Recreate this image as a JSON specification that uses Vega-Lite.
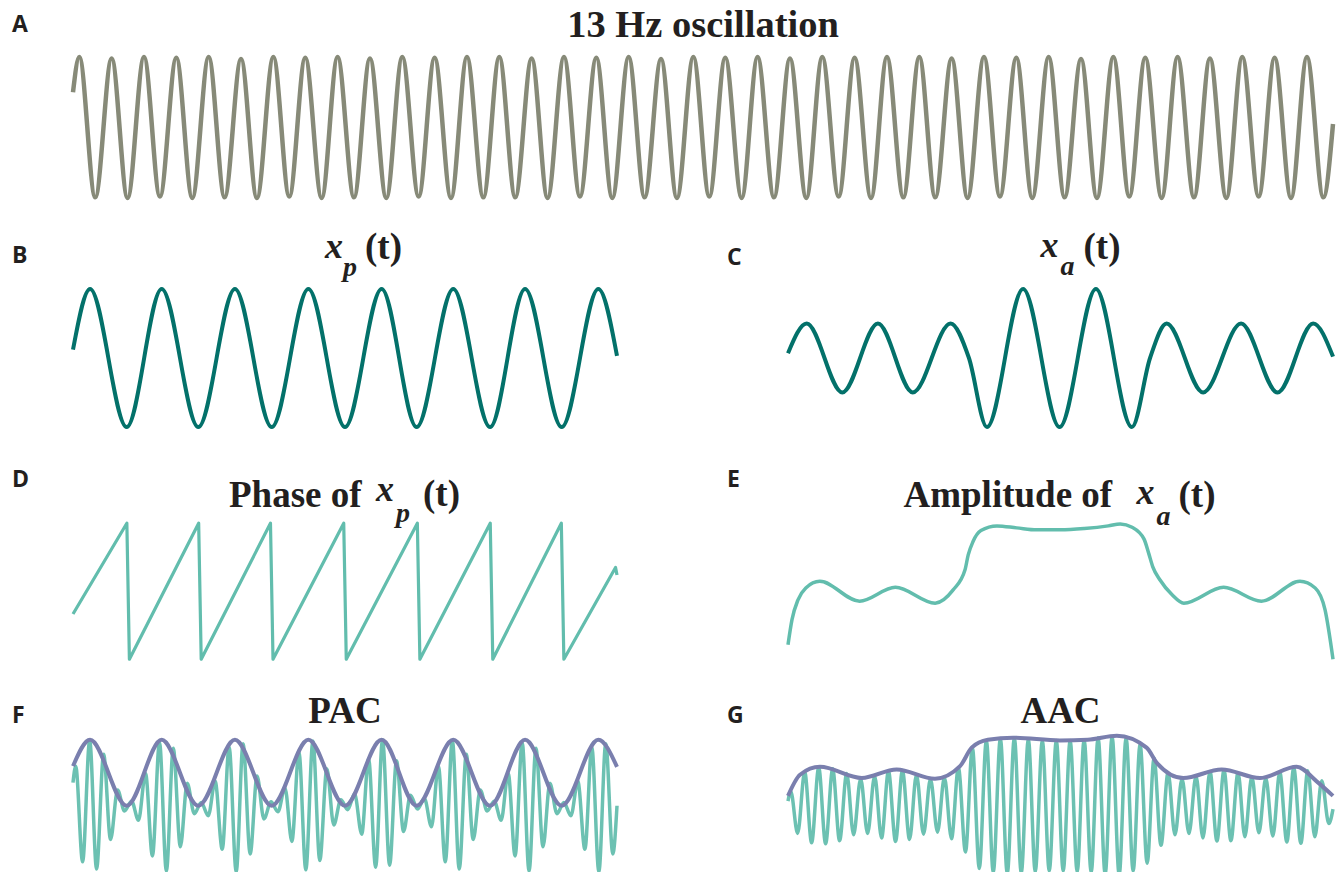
{
"$schema":"https://vega.github.io/schema/vega-lite/v6.json",
"padding":{"left":12,"top":6,"right":0,"bottom":0},
"background":"white",
"config":{"view":{"stroke":null},"text":{"color":"#231f20"}},
"datasets":{
"A":[{"t":0,"v":0.5},{"t":0.015,"v":1},{"t":0.053,"v":-0.99},{"t":0.092,"v":0.98},{"t":0.13,"v":-1},{"t":0.169,"v":1},{"t":0.207,"v":-0.98},{"t":0.246,"v":0.99},{"t":0.284,"v":-1},{"t":0.323,"v":1},{"t":0.361,"v":-0.99},{"t":0.4,"v":0.97},{"t":0.438,"v":-1},{"t":0.477,"v":1},{"t":0.515,"v":-0.98},{"t":0.553,"v":0.99},{"t":0.592,"v":-1},{"t":0.63,"v":1},{"t":0.669,"v":-0.99},{"t":0.707,"v":0.98},{"t":0.746,"v":-1},{"t":0.784,"v":1},{"t":0.823,"v":-0.98},{"t":0.861,"v":0.99},{"t":0.9,"v":-1},{"t":0.938,"v":1},{"t":0.977,"v":-0.99},
{"t":1.015,"v":1},{"t":1.053,"v":-0.99},{"t":1.092,"v":0.98},{"t":1.13,"v":-1},{"t":1.169,"v":1},{"t":1.207,"v":-0.98},{"t":1.246,"v":0.99},{"t":1.284,"v":-1},{"t":1.323,"v":1},{"t":1.361,"v":-0.99},{"t":1.4,"v":0.97},{"t":1.438,"v":-1},{"t":1.477,"v":1},{"t":1.515,"v":-0.98},{"t":1.553,"v":0.99},{"t":1.592,"v":-1},{"t":1.63,"v":1},{"t":1.669,"v":-0.99},{"t":1.707,"v":0.98},{"t":1.746,"v":-1},{"t":1.784,"v":1},{"t":1.823,"v":-0.98},{"t":1.861,"v":0.99},{"t":1.9,"v":-1},{"t":1.938,"v":1},{"t":1.977,"v":-0.99},
{"t":2.015,"v":1},{"t":2.053,"v":-0.99},{"t":2.092,"v":0.98},{"t":2.13,"v":-1},{"t":2.169,"v":1},{"t":2.207,"v":-0.98},{"t":2.246,"v":0.99},{"t":2.284,"v":-1},{"t":2.323,"v":1},{"t":2.361,"v":-0.99},{"t":2.4,"v":0.97},{"t":2.438,"v":-1},{"t":2.477,"v":1},{"t":2.515,"v":-0.98},{"t":2.553,"v":0.99},{"t":2.592,"v":-1},{"t":2.63,"v":1},{"t":2.669,"v":-0.99},{"t":2.707,"v":0.98},{"t":2.746,"v":-1},{"t":2.784,"v":1},{"t":2.823,"v":-0.98},{"t":2.861,"v":0.99},{"t":2.9,"v":-1},{"t":2.938,"v":1},{"t":2.977,"v":-0.99},{"t":3,"v":0.05}],
"B":[{"t":0,"v":0.12},{"t":0.094,"v":1},{"t":0.296,"v":-1},{"t":0.489,"v":1},{"t":0.691,"v":-1},{"t":0.893,"v":1},{"t":1.096,"v":-1},{"t":1.298,"v":1},{"t":1.5,"v":-1},{"t":1.702,"v":1},{"t":1.895,"v":-1},{"t":2.097,"v":1},{"t":2.3,"v":-1},{"t":2.493,"v":1},{"t":2.695,"v":-1},{"t":2.897,"v":1},{"t":3,"v":0.03}],
"C":[{"t":0,"v":0.07},{"t":0.103,"v":0.5},{"t":0.299,"v":-0.5},{"t":0.495,"v":0.5},{"t":0.687,"v":-0.5},{"t":0.895,"v":0.5},{"t":0.996,"v":0},{"t":1.095,"v":-1},{"t":1.294,"v":1},{"t":1.495,"v":-1},{"t":1.695,"v":1},{"t":1.893,"v":-1},{"t":1.993,"v":0},{"t":2.084,"v":0.5},{"t":2.285,"v":-0.5},{"t":2.494,"v":0.5},{"t":2.695,"v":-0.5},{"t":2.891,"v":0.5},{"t":3,"v":0.02}],
"D":[{"t":0,"v":-1.05},{"t":0.297,"v":3.14},{"t":0.311,"v":-3.14},{"t":0.693,"v":3.14},{"t":0.707,"v":-3.14},{"t":1.089,"v":3.14},{"t":1.103,"v":-3.14},{"t":1.493,"v":3.14},{"t":1.507,"v":-3.14},{"t":1.899,"v":3.14},{"t":1.913,"v":-3.14},{"t":2.301,"v":3.14},{"t":2.315,"v":-3.14},{"t":2.693,"v":3.14},{"t":2.707,"v":-3.14},{"t":2.992,"v":1.1},{"t":3,"v":0.75}],
"E":[{"t":0,"v":0.11},{"t":0.022,"v":0.3},{"t":0.055,"v":0.45},{"t":0.098,"v":0.54},{"t":0.175,"v":0.59},{"t":0.394,"v":0.44},{"t":0.591,"v":0.545},{"t":0.81,"v":0.425},{"t":0.909,"v":0.525},{"t":0.974,"v":0.675},{"t":0.992,"v":0.79},{"t":1.018,"v":0.89},{"t":1.062,"v":0.975},{"t":1.15,"v":1.01},{"t":1.259,"v":0.995},{"t":1.369,"v":0.98},{"t":1.5,"v":0.98},{"t":1.631,"v":0.99},{"t":1.763,"v":1.01},{"t":1.829,"v":1.025},{"t":1.894,"v":1.0},{"t":1.96,"v":0.91},{"t":1.986,"v":0.8},{"t":2.008,"v":0.7},{"t":2.048,"v":0.6},{"t":2.113,"v":0.49},{"t":2.179,"v":0.425},{"t":2.398,"v":0.545},{"t":2.606,"v":0.44},{"t":2.818,"v":0.59},{"t":2.902,"v":0.54},{"t":2.956,"v":0.375},{"t":3,"v":0}],
"Fp":[{"t":0,"v":0.6},{"t":0.094,"v":1},{"t":0.296,"v":0},{"t":0.489,"v":1},{"t":0.691,"v":0},{"t":0.893,"v":1},{"t":1.096,"v":0},{"t":1.298,"v":1},{"t":1.5,"v":0},{"t":1.702,"v":1},{"t":1.895,"v":0},{"t":2.097,"v":1},{"t":2.3,"v":0},{"t":2.493,"v":1},{"t":2.695,"v":0},{"t":2.897,"v":1},{"t":3,"v":0.59}],
"Ft":[{"t":0,"v":0.35},{"t":0.015,"v":0.6},{"t":0.053,"v":-0.85},{"t":0.092,"v":0.99},{"t":0.13,"v":-0.96},{"t":0.169,"v":0.78},{"t":0.207,"v":-0.51},{"t":0.246,"v":0.24},{"t":0.284,"v":-0.08},{"t":0.323,"v":0.07},{"t":0.361,"v":-0.22},{"t":0.4,"v":0.49},{"t":0.438,"v":-0.76},{"t":0.477,"v":0.96},{"t":0.515,"v":-0.99},{"t":0.553,"v":0.87},{"t":0.592,"v":-0.62},{"t":0.63,"v":0.34},{"t":0.669,"v":-0.12},{"t":0.707,"v":0.05},{"t":0.746,"v":-0.15},{"t":0.784,"v":0.37},{"t":0.823,"v":-0.66},{"t":0.861,"v":0.89},{"t":0.9,"v":-1},{"t":0.938,"v":0.94},{"t":0.977,"v":-0.73},
{"t":1.015,"v":0.45},{"t":1.053,"v":-0.2},{"t":1.092,"v":0.06},{"t":1.13,"v":-0.09},{"t":1.169,"v":0.27},{"t":1.207,"v":-0.54},{"t":1.246,"v":0.81},{"t":1.284,"v":-0.97},{"t":1.323,"v":0.98},{"t":1.361,"v":-0.83},{"t":1.4,"v":0.56},{"t":1.438,"v":-0.29},{"t":1.477,"v":0.09},{"t":1.515,"v":-0.06},{"t":1.553,"v":0.18},{"t":1.592,"v":-0.43},{"t":1.63,"v":0.71},{"t":1.669,"v":-0.93},{"t":1.707,"v":1},{"t":1.746,"v":-0.9},{"t":1.784,"v":0.68},{"t":1.823,"v":-0.39},{"t":1.861,"v":0.16},{"t":1.9,"v":-0.05},{"t":1.938,"v":0.11},{"t":1.977,"v":-0.32},
{"t":2.015,"v":0.6},{"t":2.053,"v":-0.85},{"t":2.092,"v":0.99},{"t":2.13,"v":-0.96},{"t":2.169,"v":0.78},{"t":2.207,"v":-0.51},{"t":2.246,"v":0.24},{"t":2.284,"v":-0.08},{"t":2.323,"v":0.07},{"t":2.361,"v":-0.22},{"t":2.4,"v":0.49},{"t":2.438,"v":-0.76},{"t":2.477,"v":0.96},{"t":2.515,"v":-0.99},{"t":2.553,"v":0.87},{"t":2.592,"v":-0.62},{"t":2.63,"v":0.34},{"t":2.669,"v":-0.12},{"t":2.707,"v":0.05},{"t":2.746,"v":-0.15},{"t":2.784,"v":0.37},{"t":2.823,"v":-0.66},{"t":2.861,"v":0.89},{"t":2.9,"v":-1},{"t":2.938,"v":0.94},{"t":2.977,"v":-0.73},{"t":3,"v":0}],
"Gp":[{"t":0,"v":0.15},{"t":0.066,"v":0.47},{"t":0.176,"v":0.59},{"t":0.406,"v":0.42},{"t":0.598,"v":0.55},{"t":0.809,"v":0.41},{"t":0.947,"v":0.6},{"t":1.011,"v":0.88},{"t":1.1,"v":1},{"t":1.24,"v":1.03},{"t":1.497,"v":0.99},{"t":1.65,"v":1},{"t":1.81,"v":1.06},{"t":1.974,"v":0.88},{"t":2.03,"v":0.65},{"t":2.176,"v":0.42},{"t":2.387,"v":0.55},{"t":2.598,"v":0.42},{"t":2.8,"v":0.59},{"t":2.91,"v":0.37},{"t":3,"v":0.15}],
"Gt":[{"t":0,"v":0.07},{"t":0.015,"v":0.22},{"t":0.053,"v":-0.42},{"t":0.092,"v":0.51},{"t":0.13,"v":-0.56},{"t":0.169,"v":0.58},{"t":0.207,"v":-0.575},{"t":0.246,"v":0.56},{"t":0.284,"v":-0.53},{"t":0.323,"v":0.49},{"t":0.361,"v":-0.44},{"t":0.4,"v":0.41},{"t":0.438,"v":-0.42},{"t":0.477,"v":0.45},{"t":0.515,"v":-0.49},{"t":0.553,"v":0.525},{"t":0.592,"v":-0.54},{"t":0.63,"v":0.535},{"t":0.669,"v":-0.51},{"t":0.707,"v":0.47},{"t":0.746,"v":-0.43},{"t":0.784,"v":0.405},{"t":0.823,"v":-0.4},{"t":0.861,"v":0.43},{"t":0.9,"v":-0.5},{"t":0.938,"v":0.58},{"t":0.977,"v":-0.7},
{"t":1.015,"v":0.88},{"t":1.053,"v":-0.95},{"t":1.092,"v":0.99},{"t":1.13,"v":-1.01},{"t":1.169,"v":1.02},{"t":1.207,"v":-1.03},{"t":1.246,"v":1.03},{"t":1.284,"v":-1.02},{"t":1.323,"v":1.01},{"t":1.361,"v":-1},{"t":1.4,"v":0.99},{"t":1.438,"v":-0.99},{"t":1.477,"v":0.99},{"t":1.515,"v":-0.99},{"t":1.553,"v":0.99},{"t":1.592,"v":-1},{"t":1.63,"v":1},{"t":1.669,"v":-1.01},{"t":1.707,"v":1.03},{"t":1.746,"v":-1.04},{"t":1.784,"v":1.05},{"t":1.823,"v":-1.05},{"t":1.861,"v":1.03},{"t":1.9,"v":-0.99},{"t":1.938,"v":0.93},{"t":1.977,"v":-0.87},
{"t":2.015,"v":0.72},{"t":2.053,"v":-0.6},{"t":2.092,"v":0.5},{"t":2.13,"v":-0.44},{"t":2.169,"v":0.41},{"t":2.207,"v":-0.42},{"t":2.246,"v":0.45},{"t":2.284,"v":-0.49},{"t":2.323,"v":0.52},{"t":2.361,"v":-0.535},{"t":2.4,"v":0.54},{"t":2.438,"v":-0.53},{"t":2.477,"v":0.5},{"t":2.515,"v":-0.47},{"t":2.553,"v":0.44},{"t":2.592,"v":-0.41},{"t":2.63,"v":0.42},{"t":2.669,"v":-0.46},{"t":2.707,"v":0.51},{"t":2.746,"v":-0.55},{"t":2.784,"v":0.575},{"t":2.823,"v":-0.57},{"t":2.861,"v":0.53},{"t":2.9,"v":-0.47},{"t":2.938,"v":0.38},{"t":2.977,"v":-0.27},{"t":3,"v":-0.05}]
},
"spacing":27,
"vconcat":[
{"hconcat":[
{"width":1260,"height":141,"layer":[
{"data":{"name":"A"},"mark":{"type":"line","interpolate":"monotone","color":"#878a78","strokeWidth":4.5,"strokeJoin":"round"},"encoding":{"x":{"field":"t","type":"quantitative","scale":{"domain":[0,3],"nice":false,"zero":false},"axis":null},"y":{"field":"v","type":"quantitative","scale":{"domain":[-1,1],"nice":false,"zero":false},"axis":null}}},
{"data":{"values":[{}]},"mark":{"type":"text","text":"13 Hz oscillation","font":"Liberation Serif","fontWeight":"bold","fontSize":38.5,"align":"center","baseline":"alphabetic","dy":-20},"encoding":{"x":{"datum":1.5},"y":{"datum":1}}},
{"data":{"values":[{}]},"mark":{"type":"text","text":"A","font":"Open Sans","fontWeight":"bold","fontSize":23,"align":"left","baseline":"alphabetic","dx":-61,"dy":-25},"encoding":{"x":{"datum":0},"y":{"datum":1}}}
]}
]},
{"spacing":40.25,"vconcat":[
{"spacing":108,"hconcat":[
{"width":544,"height":138,"layer":[
{"data":{"name":"B"},"mark":{"type":"line","interpolate":"monotone","color":"#03716a","strokeWidth":4,"strokeJoin":"round"},"encoding":{"x":{"field":"t","type":"quantitative","scale":{"domain":[0,3],"nice":false,"zero":false},"axis":null},"y":{"field":"v","type":"quantitative","scale":{"domain":[-1,1],"nice":false,"zero":false},"axis":null}}},
{"data":{"values":[{}]},"mark":{"type":"text","text":"x","font":"Liberation Serif","fontWeight":"bold","fontStyle":"italic","fontSize":36,"align":"left","baseline":"alphabetic","dx":-20,"dy":-31},"encoding":{"x":{"datum":1.5},"y":{"datum":1}}},
{"data":{"values":[{}]},"mark":{"type":"text","text":"p","font":"Liberation Serif","fontWeight":"bold","fontStyle":"italic","fontSize":28,"align":"left","baseline":"alphabetic","dx":-2,"dy":-13},"encoding":{"x":{"datum":1.5},"y":{"datum":1}}},
{"data":{"values":[{}]},"mark":{"type":"text","text":"(t)","font":"Liberation Serif","fontWeight":"bold","fontSize":37,"align":"left","baseline":"alphabetic","dx":20,"dy":-30},"encoding":{"x":{"datum":1.5},"y":{"datum":1}}},
{"data":{"values":[{}]},"mark":{"type":"text","text":"B","font":"Open Sans","fontWeight":"bold","fontSize":23,"align":"left","baseline":"alphabetic","dx":-61,"dy":-26},"encoding":{"x":{"datum":0},"y":{"datum":1}}}
]},
{"width":545,"height":138,"layer":[
{"data":{"name":"C"},"mark":{"type":"line","interpolate":"monotone","color":"#03716a","strokeWidth":4,"strokeJoin":"round"},"encoding":{"x":{"field":"t","type":"quantitative","scale":{"domain":[0,3],"nice":false,"zero":false},"axis":null},"y":{"field":"v","type":"quantitative","scale":{"domain":[-1,1],"nice":false,"zero":false},"axis":null}}},
{"data":{"values":[{}]},"mark":{"type":"text","text":"x","font":"Liberation Serif","fontWeight":"bold","fontStyle":"italic","fontSize":36,"align":"left","baseline":"alphabetic","dx":-20,"dy":-32},"encoding":{"x":{"datum":1.5},"y":{"datum":1}}},
{"data":{"values":[{}]},"mark":{"type":"text","text":"a","font":"Liberation Serif","fontWeight":"bold","fontStyle":"italic","fontSize":28,"align":"left","baseline":"alphabetic","dx":0,"dy":-14},"encoding":{"x":{"datum":1.5},"y":{"datum":1}}},
{"data":{"values":[{}]},"mark":{"type":"text","text":"(t)","font":"Liberation Serif","fontWeight":"bold","fontSize":37,"align":"left","baseline":"alphabetic","dx":23,"dy":-30},"encoding":{"x":{"datum":1.5},"y":{"datum":1}}},
{"data":{"values":[{}]},"mark":{"type":"text","text":"C","font":"Open Sans","fontWeight":"bold","fontSize":23,"align":"left","baseline":"alphabetic","dx":-61,"dy":-24},"encoding":{"x":{"datum":0},"y":{"datum":1}}}
]}
]},
{"spacing":31.5,"vconcat":[
{"spacing":108,"hconcat":[
{"width":544,"height":136,"layer":[
{"data":{"name":"D"},"mark":{"type":"line","color":"#62bdad","strokeWidth":3.2,"strokeJoin":"round"},"encoding":{"x":{"field":"t","type":"quantitative","scale":{"domain":[0,3],"nice":false,"zero":false},"axis":null},"y":{"field":"v","type":"quantitative","scale":{"domain":[-3.14,3.14],"nice":false,"zero":false},"axis":null}}},
{"data":{"values":[{}]},"mark":{"type":"text","text":"Phase of","font":"Liberation Serif","fontWeight":"bold","fontSize":37,"align":"left","baseline":"alphabetic","dx":-116,"dy":-16},"encoding":{"x":{"datum":1.5},"y":{"datum":3.14}}},
{"data":{"values":[{}]},"mark":{"type":"text","text":"x","font":"Liberation Serif","fontWeight":"bold","fontStyle":"italic","fontSize":36,"align":"left","baseline":"alphabetic","dx":31,"dy":-22},"encoding":{"x":{"datum":1.5},"y":{"datum":3.14}}},
{"data":{"values":[{}]},"mark":{"type":"text","text":"p","font":"Liberation Serif","fontWeight":"bold","fontStyle":"italic","fontSize":28,"align":"left","baseline":"alphabetic","dx":51,"dy":-1},"encoding":{"x":{"datum":1.5},"y":{"datum":3.14}}},
{"data":{"values":[{}]},"mark":{"type":"text","text":"(t)","font":"Liberation Serif","fontWeight":"bold","fontSize":37,"align":"left","baseline":"alphabetic","dx":78,"dy":-17},"encoding":{"x":{"datum":1.5},"y":{"datum":3.14}}},
{"data":{"values":[{}]},"mark":{"type":"text","text":"D","font":"Open Sans","fontWeight":"bold","fontSize":23,"align":"left","baseline":"alphabetic","dx":-61,"dy":-36},"encoding":{"x":{"datum":0},"y":{"datum":3.14}}}
]},
{"width":545,"height":136,"layer":[
{"data":{"name":"E"},"mark":{"type":"line","interpolate":"monotone","color":"#62bdad","strokeWidth":3.5,"strokeJoin":"round"},"encoding":{"x":{"field":"t","type":"quantitative","scale":{"domain":[0,3],"nice":false,"zero":false},"axis":null},"y":{"field":"v","type":"quantitative","scale":{"domain":[0,1.03],"nice":false,"zero":false},"axis":null}}},
{"data":{"values":[{}]},"mark":{"type":"text","text":"Amplitude of","font":"Liberation Serif","fontWeight":"bold","fontSize":37,"align":"left","baseline":"alphabetic","dx":-157,"dy":-16},"encoding":{"x":{"datum":1.5},"y":{"datum":1.03}}},
{"data":{"values":[{}]},"mark":{"type":"text","text":"x","font":"Liberation Serif","fontWeight":"bold","fontStyle":"italic","fontSize":36,"align":"left","baseline":"alphabetic","dx":76,"dy":-19},"encoding":{"x":{"datum":1.5},"y":{"datum":1.03}}},
{"data":{"values":[{}]},"mark":{"type":"text","text":"a","font":"Liberation Serif","fontWeight":"bold","fontStyle":"italic","fontSize":28,"align":"left","baseline":"alphabetic","dx":96,"dy":2},"encoding":{"x":{"datum":1.5},"y":{"datum":1.03}}},
{"data":{"values":[{}]},"mark":{"type":"text","text":"(t)","font":"Liberation Serif","fontWeight":"bold","fontSize":37,"align":"left","baseline":"alphabetic","dx":118,"dy":-16},"encoding":{"x":{"datum":1.5},"y":{"datum":1.03}}},
{"data":{"values":[{}]},"mark":{"type":"text","text":"E","font":"Open Sans","fontWeight":"bold","fontSize":23,"align":"left","baseline":"alphabetic","dx":-61,"dy":-36},"encoding":{"x":{"datum":0},"y":{"datum":1.03}}}
]}
]},
{"spacing":108,"hconcat":[
{"width":544,"height":132,"layer":[
{"data":{"name":"Ft"},"mark":{"type":"line","interpolate":"monotone","color":"#6cc1b2","strokeWidth":3.5,"strokeJoin":"round"},"encoding":{"x":{"field":"t","type":"quantitative","scale":{"domain":[0,3],"nice":false,"zero":false},"axis":null},"y":{"field":"v","type":"quantitative","scale":{"domain":[-1,1],"nice":false,"zero":false},"axis":null}}},
{"data":{"name":"Fp"},"mark":{"type":"line","interpolate":"monotone","color":"#7a7fae","strokeWidth":4,"strokeJoin":"round"},"encoding":{"x":{"field":"t","type":"quantitative","scale":{"domain":[0,3],"nice":false,"zero":false},"axis":null},"y":{"field":"v","type":"quantitative","scale":{"domain":[-1,1],"nice":false,"zero":false},"axis":null}}},
{"data":{"values":[{}]},"mark":{"type":"text","text":"PAC","font":"Liberation Serif","fontWeight":"bold","fontSize":37,"align":"center","baseline":"alphabetic","dy":-17},"encoding":{"x":{"datum":1.5},"y":{"datum":1}}},
{"data":{"values":[{}]},"mark":{"type":"text","text":"F","font":"Open Sans","fontWeight":"bold","fontSize":23,"align":"left","baseline":"alphabetic","dx":-61,"dy":-17},"encoding":{"x":{"datum":0},"y":{"datum":1}}}
]},
{"width":545,"height":132,"layer":[
{"data":{"name":"Gt"},"mark":{"type":"line","interpolate":"monotone","color":"#6cc1b2","strokeWidth":3.5,"strokeJoin":"round"},"encoding":{"x":{"field":"t","type":"quantitative","scale":{"domain":[0,3],"nice":false,"zero":false},"axis":null},"y":{"field":"v","type":"quantitative","scale":{"domain":[-1,1],"nice":false,"zero":false},"axis":null}}},
{"data":{"name":"Gp"},"mark":{"type":"line","interpolate":"monotone","color":"#7a7fae","strokeWidth":4,"strokeJoin":"round"},"encoding":{"x":{"field":"t","type":"quantitative","scale":{"domain":[0,3],"nice":false,"zero":false},"axis":null},"y":{"field":"v","type":"quantitative","scale":{"domain":[-1,1],"nice":false,"zero":false},"axis":null}}},
{"data":{"values":[{}]},"mark":{"type":"text","text":"AAC","font":"Liberation Serif","fontWeight":"bold","fontSize":37,"align":"center","baseline":"alphabetic","dy":-17},"encoding":{"x":{"datum":1.5},"y":{"datum":1}}},
{"data":{"values":[{}]},"mark":{"type":"text","text":"G","font":"Open Sans","fontWeight":"bold","fontSize":23,"align":"left","baseline":"alphabetic","dx":-61,"dy":-17},"encoding":{"x":{"datum":0},"y":{"datum":1}}}
]}
]}
]}
]}
]
}
